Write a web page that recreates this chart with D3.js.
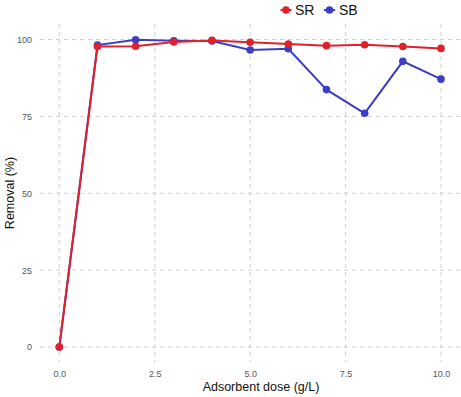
<!DOCTYPE html>
<html>
<head>
<meta charset="utf-8">
<script src="https://cdn.jsdelivr.net/npm/d3@7"></script>
<style>
  body { margin: 0; background: #fff; }
  svg { display: block; font-family: "Liberation Sans", Arial, sans-serif; }
</style>
</head>
<body>
<svg width="461" height="397"></svg>
<script>
// values
var dose = [0, 1, 2, 3, 4, 5, 6, 7, 8, 9, 10]
var srRemoval = [0, 97.7, 97.8, 99.2, 99.7, 99.1, 98.5, 98.0, 98.3, 97.7, 97.1]
var sbRemoval = [0, 98.2, 99.9, 99.6, 99.5, 96.6, 97.0, 83.7, 76.0, 92.9, 87.1]
var xTicks = [0, 2.5, 5, 7.5, 10]
var yTicks = [0, 25, 50, 75, 100]

var series = [
  { name: "SB", color: "#3b3fc4", values: sbRemoval },
  { name: "SR", color: "#e0202a", values: srRemoval }
]

var svg = d3.select("svg")
var x = d3.scaleLinear().domain([0, 10]).range([59.3, 441])
var y = d3.scaleLinear().domain([0, 100]).range([347, 39.5])

// grid
var grid = svg.append("g")
grid.selectAll(".gx").data(xTicks).enter().append("line")
  .attr("x1", d => x(d)).attr("x2", d => x(d))
  .attr("y1", 24).attr("y2", 362)
  .attr("stroke", "#cfcfcf").attr("stroke-width", 1).attr("stroke-dasharray", "4,4")
grid.selectAll(".gy").data(yTicks).enter().append("line")
  .attr("x1", 40).attr("x2", 461)
  .attr("y1", d => y(d)).attr("y2", d => y(d))
  .attr("stroke", "#cfcfcf").attr("stroke-width", 1).attr("stroke-dasharray", "4,4")

// axes (labels only)
var xAxis = svg.append("g").attr("transform", "translate(0,368)")
  .call(d3.axisBottom(x).tickValues(xTicks).tickFormat(d3.format(".1f")).tickSize(0))
var yAxis = svg.append("g").attr("transform", "translate(35,0)")
  .call(d3.axisLeft(y).tickValues(yTicks).tickSize(0))
svg.selectAll(".domain").remove()
svg.selectAll(".tick text").attr("fill", "#555").attr("font-size", "9px")
  .attr("font-family", "Liberation Sans, Arial, sans-serif")
xAxis.selectAll(".tick text").attr("dy", "0.7em")

// axis titles
svg.append("text").attr("x", 261).attr("y", 391).attr("text-anchor", "middle")
  .attr("font-size", "12.5px").attr("fill", "#111").text("Adsorbent dose (g/L)")
svg.append("text").attr("transform", "translate(14,193) rotate(-90)")
  .attr("text-anchor", "middle").attr("font-size", "12.5px").attr("fill", "#111")
  .text("Removal (%)")

// lines and points
var line = d3.line().x((d, i) => x(dose[i])).y(d => y(d))
series.forEach(function (s) {
  svg.append("path").datum(s.values)
    .attr("d", line).attr("fill", "none")
    .attr("stroke", s.color).attr("stroke-width", 2)
  svg.selectAll(null).data(s.values).enter().append("circle")
    .attr("cx", (d, i) => x(dose[i])).attr("cy", d => y(d))
    .attr("r", 3.8).attr("fill", s.color)
})

// legend
var legend = [
  { name: "SR", color: "#e0202a", kx: 286, tx: 295 },
  { name: "SB", color: "#3b3fc4", kx: 329.5, tx: 339 }
]
legend.forEach(function (l) {
  svg.append("line").attr("x1", l.kx - 5.5).attr("x2", l.kx + 5.5)
    .attr("y1", 10).attr("y2", 10).attr("stroke", l.color).attr("stroke-width", 2)
  svg.append("circle").attr("cx", l.kx).attr("cy", 10).attr("r", 3.8).attr("fill", l.color)
  svg.append("text").attr("x", l.tx).attr("y", 15).attr("font-size", "14px")
    .attr("fill", "#111").text(l.name)
})
</script>
</body>
</html>
